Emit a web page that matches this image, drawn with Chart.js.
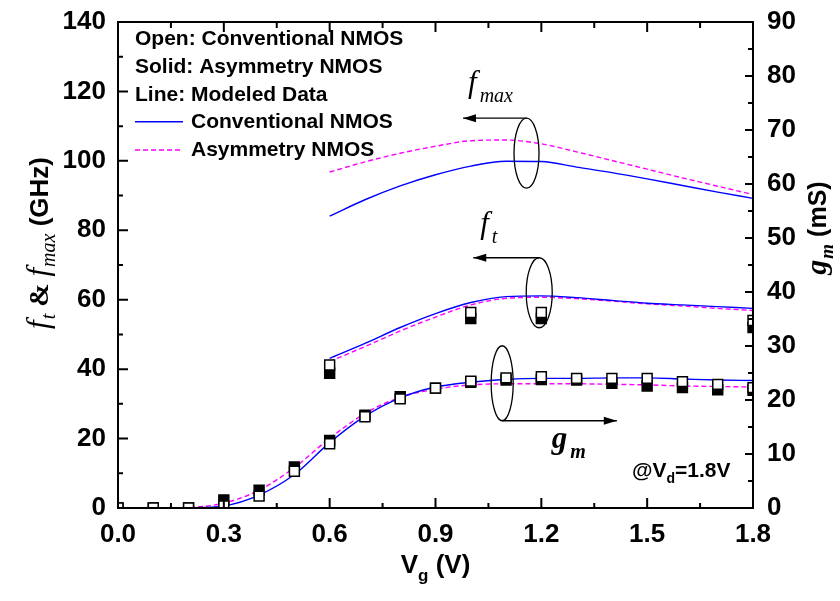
<!DOCTYPE html>
<html>
<head>
<meta charset="utf-8">
<script src="https://cdn.jsdelivr.net/npm/chart.js@4.4.0/dist/chart.umd.min.js"></script>
<style>
  html, body { margin: 0; padding: 0; background: #fff; }
</style>
</head>
<body>
<canvas id="chart" width="840" height="601"></canvas>
<script>
// gate voltage grids (V)
const vgMeas  = [0.0, 0.1, 0.2, 0.3, 0.4, 0.5, 0.6, 0.7, 0.8, 0.9, 1.0, 1.1, 1.2, 1.3, 1.4, 1.5, 1.6, 1.7, 1.8];
const vgModel = [0.6, 0.7, 0.8, 0.9, 1.0, 1.1, 1.2, 1.3, 1.4, 1.5, 1.6, 1.7, 1.8];
const vgFt    = [0.6, 1.0, 1.2, 1.8];

// measured gm (mS): open = conventional, solid = asymmetry
const gmConv = [0, 0, 0, 0.4, 2.2, 6.8, 11.9, 16.9, 20.2, 22.2, 23.5, 24.1, 24.3, 24.0, 24.0, 24.0, 23.4, 22.9, 22.3];
const gmAsym = [0, 0, 0, 1.5, 3.3, 7.6, 12.5, 17.2, 20.6, 22.2, 23.3, 23.7, 23.8, 23.7, 23.1, 22.6, 22.3, 21.9, 21.8];

// measured ft (GHz)
const ftConv = [41.2, 56.3, 56.3, 54.0];
const ftAsym = [38.8, 54.6, 54.6, 52.0];

// modeled curves
const gmModelConv   = [0, 0, 0.05, 0.4, 2.4, 6.2, 12.1, 17.0, 20.4, 22.4, 23.3, 23.8, 24.0, 24.0, 24.1, 24.1, 23.9, 23.7, 23.6];
const gmModelAsym   = [0, 0, 0.1, 0.9, 3.3, 7.5, 12.9, 17.5, 20.5, 22.0, 22.8, 23.0, 23.0, 23.0, 22.9, 22.8, 22.6, 22.5, 22.4];
const ftModelConv   = [43.1, 47.4, 52.0, 56.0, 59.2, 60.9, 61.1, 60.6, 59.8, 59.0, 58.5, 58.0, 57.5];
const ftModelAsym   = [42.2, 46.5, 51.0, 55.0, 58.5, 60.4, 60.7, 60.3, 59.6, 58.8, 58.2, 57.5, 56.9];
const fmaxModelConv = [84.1, 88.8, 92.8, 96.0, 98.5, 99.9, 99.8, 98.2, 96.6, 94.8, 92.9, 91.0, 89.2];
const fmaxModelAsym = [96.8, 99.7, 102.2, 104.2, 105.8, 106.0, 104.9, 102.6, 100.1, 97.6, 95.1, 92.7, 90.3];

// axis ticks
const xTicks  = [0.0, 0.3, 0.6, 0.9, 1.2, 1.5, 1.8];
const yTicks  = [0, 20, 40, 60, 80, 100, 120, 140];
const y2Ticks = [0, 10, 20, 30, 40, 50, 60, 70, 80, 90];

const SANS = "'Liberation Sans', Arial, sans-serif";
const SERIF = "'Liberation Serif', 'Times New Roman', serif";
const BLUE = '#0000ff';
const MAGENTA = '#ff00ff';

const pairs = (xs, ys) => xs.map((x, i) => ({x: x, y: ys[i]}));

function lineSet(data, color, dashed, axis) {
  return {
    data: data, yAxisID: axis, borderColor: color, borderWidth: 1.4,
    borderDash: dashed ? [5, 3] : [], pointRadius: 0, fill: false,
    cubicInterpolationMode: 'monotone', order: 3
  };
}
function markerSet(data, solid, axis) {
  return {
    data: data, yAxisID: axis, showLine: false, pointStyle: 'rect',
    pointRadius: 7, pointHoverRadius: 7, pointBorderWidth: 1.5,
    pointBackgroundColor: solid ? '#000' : '#fff', pointBorderColor: '#000',
    clip: 0, order: solid ? 2 : 1
  };
}

// ellipse + arrow callouts, positions in data units
const callouts = [
  {axis: 'y',  cx: 1.158, cy: 102.2, rx: 12.5, ry: 35,   from: 'top',    tip: 0.978, main: 'f', sub: 'max', dx: 5,   dy: -26},
  {axis: 'y',  cx: 1.194, cy: 62.0,  rx: 13,   ry: 35,   from: 'top',    tip: 1.007, main: 'f', sub: 't',   dx: 7,   dy: -25},
  {axis: 'y2', cx: 1.089, cy: 23.1,  rx: 11,   ry: 37.5, from: 'bottom', tip: 1.414, main: 'g', sub: 'm',   dx: -65, dy: 27}
];

function arrow(ctx, x1, y1, x2, y2) {
  ctx.beginPath(); ctx.moveTo(x1, y1); ctx.lineTo(x2, y2); ctx.stroke();
  const a = Math.atan2(y2 - y1, x2 - x1), L = 13, W = 4;
  ctx.beginPath();
  ctx.moveTo(x2, y2);
  ctx.lineTo(x2 - L * Math.cos(a) + W * Math.sin(a), y2 - L * Math.sin(a) - W * Math.cos(a));
  ctx.lineTo(x2 - L * Math.cos(a) - W * Math.sin(a), y2 - L * Math.sin(a) + W * Math.cos(a));
  ctx.closePath(); ctx.fill();
}

// draws text pieces one after another; returns total width
function runs(ctx, parts, x0, y0, measureOnly) {
  let x = x0;
  parts.forEach(p => {
    ctx.font = p.font;
    if (!measureOnly) ctx.fillText(p.text, x, y0 + (p.dy || 0));
    x += ctx.measureText(p.text).width + (p.gap || 0);
  });
  return x - x0;
}
function centeredRuns(ctx, parts, cx, y0) {
  const w = runs(ctx, parts, 0, 0, true);
  runs(ctx, parts, cx - w / 2, y0);
}

const decor = {
  id: 'decor',
  afterDraw(chart) {
    const {ctx, scales} = chart;
    const {x, y, y2} = scales;
    const L = x.left, R = x.right, T = y.top, B = y.bottom;
    ctx.save();
    ctx.setLineDash([]);
    ctx.strokeStyle = '#000';
    ctx.fillStyle = '#000';
    ctx.textAlign = 'left';
    ctx.textBaseline = 'alphabetic';

    // callouts
    ctx.lineWidth = 1.3;
    callouts.forEach(c => {
      const sy = scales[c.axis];
      const cx = x.getPixelForValue(c.cx), cy = sy.getPixelForValue(c.cy);
      ctx.beginPath();
      ctx.ellipse(cx, cy, c.rx, c.ry, 0, 0, Math.PI * 2);
      ctx.stroke();
      const ay = c.from === 'top' ? cy - c.ry : cy + c.ry;
      const tx = x.getPixelForValue(c.tip);
      arrow(ctx, cx, ay, tx, ay);
      const lx = tx + c.dx, ly = ay + c.dy;
      ctx.font = (c.main === 'g' ? 'italic bold ' : 'italic ') + '31px ' + SERIF;
      ctx.fillText(c.main, lx, ly);
      const w = ctx.measureText(c.main).width;
      ctx.font = (c.main === 'g' ? 'italic bold ' : 'italic ') + '20px ' + SERIF;
      ctx.fillText(c.sub, lx + w + 3, ly + 10);
    });

    // header notes and line key
    ctx.font = 'bold 21px ' + SANS;
    ctx.fillText('Open: Conventional NMOS', 135, 45);
    ctx.fillText('Solid: Asymmetry NMOS', 135, 72.8);
    ctx.fillText('Line: Modeled Data', 135, 100.6);
    ctx.fillText('Conventional NMOS', 191, 128.4);
    ctx.fillText('Asymmetry NMOS', 191, 156.2);
    ctx.lineWidth = 1.4;
    ctx.strokeStyle = BLUE;
    ctx.beginPath(); ctx.moveTo(135, 121.7); ctx.lineTo(183, 121.7); ctx.stroke();
    ctx.strokeStyle = MAGENTA;
    ctx.setLineDash([5, 3]);
    ctx.beginPath(); ctx.moveTo(135, 150); ctx.lineTo(183, 150); ctx.stroke();
    ctx.setLineDash([]);

    // bias note
    runs(ctx, [
      {text: '@V', font: 'bold 21px ' + SANS},
      {text: 'd', font: 'bold 14px ' + SANS, dy: 6},
      {text: '=1.8V', font: 'bold 21px ' + SANS}
    ], R - 121, B - 31);

    // x title
    centeredRuns(ctx, [
      {text: 'V', font: 'bold 26px ' + SANS},
      {text: 'g', font: 'bold 17px ' + SANS, dy: 8},
      {text: ' (V)', font: 'bold 26px ' + SANS}
    ], (L + R) / 2, 573);

    // left title
    ctx.save();
    ctx.translate(48, 243);
    ctx.rotate(-Math.PI / 2);
    centeredRuns(ctx, [
      {text: 'f', font: 'italic 31px ' + SERIF, gap: 1},
      {text: 't', font: 'italic 20px ' + SERIF, dy: 7},
      {text: ' & ', font: 'bold 28px ' + SERIF},
      {text: 'f', font: 'italic 31px ' + SERIF, gap: 1},
      {text: 'max', font: 'italic 20px ' + SERIF, dy: 7},
      {text: ' (GHz)', font: 'bold 26px ' + SANS}
    ], 0, 0);
    ctx.restore();

    // right title
    ctx.save();
    ctx.translate(826, 228);
    ctx.rotate(-Math.PI / 2);
    centeredRuns(ctx, [
      {text: 'g', font: 'italic bold 30px ' + SERIF, gap: 1},
      {text: 'm', font: 'italic bold 19px ' + SERIF, dy: 7},
      {text: ' (mS)', font: 'bold 25px ' + SANS}
    ], 0, 0);
    ctx.restore();

    // frame
    ctx.strokeStyle = '#000';
    ctx.lineWidth = 2;
    ctx.beginPath();
    ctx.moveTo(L, T); ctx.lineTo(R, T); ctx.lineTo(R, B); ctx.lineTo(L, B); ctx.closePath();
    ctx.stroke();

    // inward ticks, major + minor
    ctx.beginPath();
    xTicks.forEach((v, i) => {
      const px = x.getPixelForValue(v);
      ctx.moveTo(px, B); ctx.lineTo(px, B - 10);
      ctx.moveTo(px, T); ctx.lineTo(px, T + 10);
      if (i < xTicks.length - 1) {
        const pm = x.getPixelForValue(v + 0.15);
        ctx.moveTo(pm, B); ctx.lineTo(pm, B - 5);
        ctx.moveTo(pm, T); ctx.lineTo(pm, T + 6);
      }
    });
    yTicks.forEach((v, i) => {
      const py = y.getPixelForValue(v);
      ctx.moveTo(L, py); ctx.lineTo(L + 10, py);
      if (i < yTicks.length - 1) {
        const pm = y.getPixelForValue(v + 10);
        ctx.moveTo(L, pm); ctx.lineTo(L + 5, pm);
      }
    });
    y2Ticks.forEach((v, i) => {
      const py = y2.getPixelForValue(v);
      ctx.moveTo(R, py); ctx.lineTo(R - 8, py);
      if (i < y2Ticks.length - 1) {
        const pm = y2.getPixelForValue(v + 5);
        ctx.moveTo(R, pm); ctx.lineTo(R - 5, pm);
      }
    });
    ctx.stroke();

    ctx.restore();
  }
};

const tickFont = {family: SANS, size: 26, weight: 'bold'};

new Chart(document.getElementById('chart').getContext('2d'), {
  type: 'line',
  data: {
    datasets: [
      markerSet(pairs(vgMeas, gmConv), false, 'y2'),
      markerSet(pairs(vgFt, ftConv), false, 'y'),
      markerSet(pairs(vgMeas, gmAsym), true, 'y2'),
      markerSet(pairs(vgFt, ftAsym), true, 'y'),
      lineSet(pairs(vgMeas, gmModelConv), BLUE, false, 'y2'),
      lineSet(pairs(vgMeas, gmModelAsym), MAGENTA, true, 'y2'),
      lineSet(pairs(vgModel, ftModelConv), BLUE, false, 'y'),
      lineSet(pairs(vgModel, ftModelAsym), MAGENTA, true, 'y'),
      lineSet(pairs(vgModel, fmaxModelConv), BLUE, false, 'y'),
      lineSet(pairs(vgModel, fmaxModelAsym), MAGENTA, true, 'y')
    ]
  },
  options: {
    responsive: false,
    animation: false,
    devicePixelRatio: 1,
    layout: {padding: {top: 22, left: 0, right: 0, bottom: 0}},
    plugins: {legend: {display: false}, tooltip: {enabled: false}},
    scales: {
      x: {
        type: 'linear', min: 0, max: 1.8,
        grid: {display: false}, border: {display: false},
        afterBuildTicks: s => { s.ticks = xTicks.map(v => ({value: v})); },
        afterFit: s => { s.height = 93; },
        ticks: {font: tickFont, color: '#000', padding: 3, maxRotation: 0,
                callback: v => v.toFixed(1)}
      },
      y: {
        position: 'left', min: 0, max: 140,
        grid: {display: false}, border: {display: false},
        afterBuildTicks: s => { s.ticks = yTicks.map(v => ({value: v})); },
        afterFit: s => { s.width = 118; },
        ticks: {font: tickFont, color: '#000', padding: 4}
      },
      y2: {
        position: 'right', min: 0, max: 90,
        grid: {display: false}, border: {display: false},
        afterBuildTicks: s => { s.ticks = y2Ticks.map(v => ({value: v})); },
        afterFit: s => { s.width = 87; },
        ticks: {font: tickFont, color: '#000', padding: 6}
      }
    }
  },
  plugins: [decor]
});
</script>
</body>
</html>
